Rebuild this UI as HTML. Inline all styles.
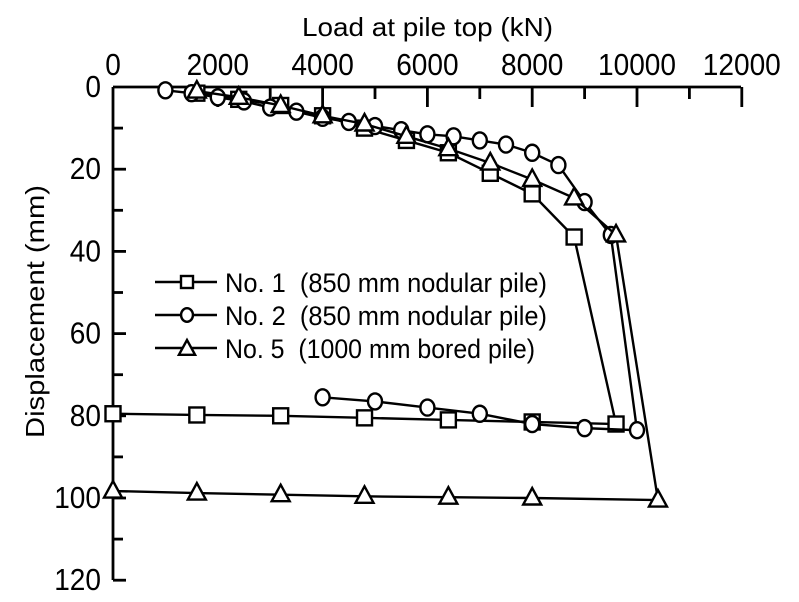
<!DOCTYPE html>
<html><head><style>body{margin:0;background:#fff}svg{display:block}text{font-family:"Liberation Sans",Arial,sans-serif;fill:#000}</style></head>
<body>
<svg id="s" width="799" height="602" viewBox="0 0 799 602" xmlns="http://www.w3.org/2000/svg">
<text x="302" y="36" font-size="26" textLength="251" lengthAdjust="spacingAndGlyphs">Load at pile top (kN)</text>
<text transform="translate(44,438) rotate(-90)" font-size="26" textLength="253" lengthAdjust="spacingAndGlyphs">Displacement (mm)</text>
<g id="ax" stroke="#000" stroke-width="2.8" fill="none"></g>
<g id="lab" font-size="31"></g>
<g id="data" stroke="#000" stroke-width="2.4" fill="none"></g>
<g font-size="27">
<text x="225" y="292" textLength="322" lengthAdjust="spacingAndGlyphs">No. 1&#160; (850 mm nodular pile)</text>
<text x="225" y="325" textLength="322" lengthAdjust="spacingAndGlyphs">No. 2&#160; (850 mm nodular pile)</text>
<text x="225" y="358" textLength="310" lengthAdjust="spacingAndGlyphs">No. 5&#160; (1000 mm bored pile)</text>
</g>
</svg>
<script>
var X=function(v){return 113+v*0.0524},Y=function(d){return 87+d*4.11};
var ax=document.getElementById('ax'),lab=document.getElementById('lab'),dg=document.getElementById('data');
var h='<line x1="113" y1="87" x2="741" y2="87"/><line x1="113" y1="87" x2="113" y2="580"/>';
for(var i=1;i<=12;i++){var x=X(i*1000);h+='<line x1="'+x+'" y1="87" x2="'+x+'" y2="'+(i%2==0?107:99)+'"/>';}
for(var d=10;d<=120;d+=10){var y=Y(d);h+='<line x1="113" y1="'+y+'" x2="'+(d%20==0?126:123)+'" y2="'+y+'"/>';}
ax.innerHTML=h;
function tl(s){return ' textLength="'+(s.length*15.6)+'" lengthAdjust="spacingAndGlyphs"';}
var l='';for(var i=0;i<=12;i+=2){var s=''+(i*1000);l+='<text x="'+(X(i*1000)-s.length*7.8)+'" y="75"'+tl(s)+'>'+s+'</text>';}
for(var d=0;d<=120;d+=20){var s=''+d;l+='<text x="'+(101-s.length*15.6)+'" y="'+(Y(d)+10)+'"'+tl(s)+'>'+s+'</text>';}
lab.innerHTML=l;
function mk(t,x,y,k){k=k||1;if(t=='s')return '<rect x="'+(x-7.5*k)+'" y="'+(y-7.5*k)+'" width="'+15*k+'" height="'+15*k+'" fill="#fff"/>';
if(t=='c')return '<ellipse cx="'+x+'" cy="'+y+'" rx="'+7*k+'" ry="'+8*k+'" fill="#fff"/>';
return '<polygon points="'+x+','+(y-10*k)+' '+(x-9*k)+','+(y+6.5*k)+' '+(x+9*k)+','+(y+6.5*k)+'" fill="#fff"/>';}
function ser(t,p){var s='<polyline points="'+p.map(function(q){return X(q[0])+','+Y(q[1])}).join(' ')+'"/>';
p.forEach(function(q){s+=mk(t,X(q[0]),Y(q[1]))});return s;}
var s1=[[1600,1.5],[2400,3],[3200,4.5],[4000,7],[4800,10],[5600,13],[6400,16],[7200,21],[8000,26],[8800,36.5],[9600,82],[8000,81.5],[6400,81],[4800,80.5],[3200,80],[1600,79.8],[0,79.5]];
var s2=[[1000,0.8],[1500,1.5],[2000,2.5],[2500,3.5],[3000,5],[3500,6],[4000,7.5],[4500,8.5],[5000,9.5],[5500,10.5],[6000,11.5],[6500,12],[7000,13],[7500,14],[8000,16],[8500,19],[9000,28],[9500,36],[10000,83.5],[9000,83],[8000,82],[7000,79.5],[6000,78],[5000,76.5],[4000,75.5]];
var s5=[[1600,1],[2400,2.5],[3200,4.5],[4000,7],[4800,9],[5600,12],[6400,15],[7200,18.5],[8000,22.5],[8800,27],[9600,36],[10400,100.5],[8000,100],[6400,99.8],[4800,99.6],[3200,99.2],[1600,98.8],[0,98.3]];
var g=ser('s',s1)+ser('c',s2)+ser('t',s5);
g+='<line x1="155" y1="282" x2="217" y2="282"/>'+mk('s',187,282,0.8);
g+='<line x1="155" y1="315" x2="217" y2="315"/>'+mk('c',187,315,0.85);
g+='<line x1="155" y1="348" x2="217" y2="348"/>'+mk('t',187,349,0.9);
dg.innerHTML=g;
</script>
</body></html>
